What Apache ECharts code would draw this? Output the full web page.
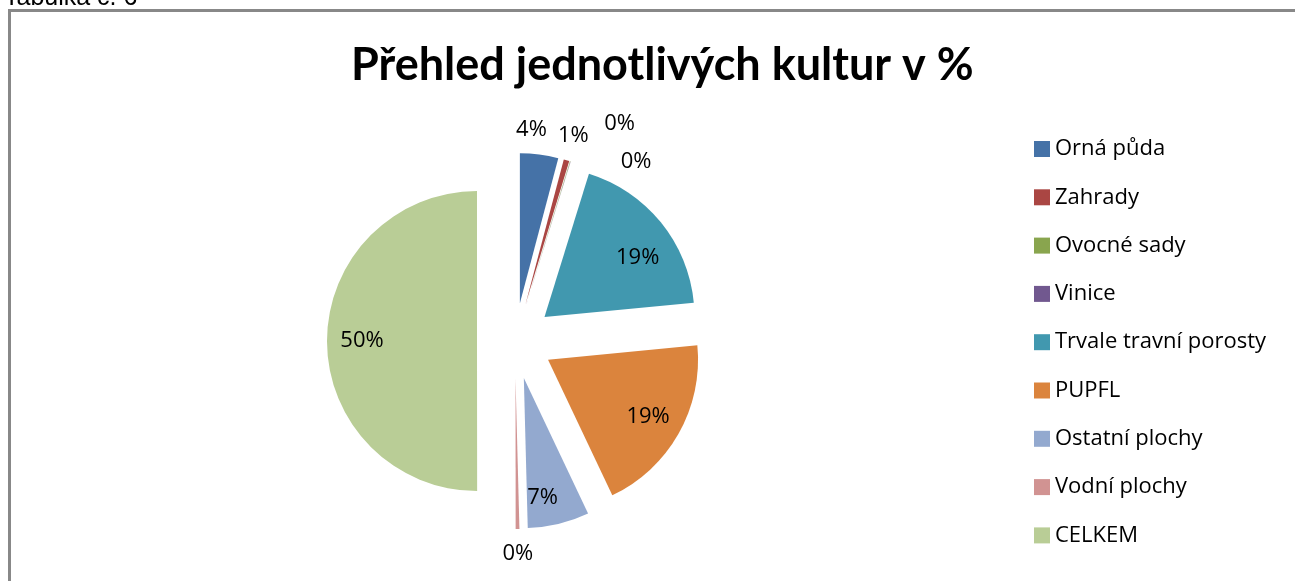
<!DOCTYPE html>
<html>
<head>
<meta charset="utf-8">
<script src="https://cdn.jsdelivr.net/npm/echarts@6/dist/echarts.min.js"></script>
<style>
  html, body { margin: 0; padding: 0; background: #fff; }
  #main { width: 1295px; height: 581px; }
</style>
</head>
<body>
<div id="main"></div>
<script>
// kategorie a hodnoty (v %)
const categories = ['Orná půda', 'Zahrady', 'Ovocné sady', 'Vinice', 'Trvale travní porosty',
                    'PUPFL', 'Ostatní plochy', 'Vodní plochy', 'CELKEM'];
const values = [4.1, 0.6, 0.05, 0.02, 18.6, 19.4, 6.6, 0.4, 49.8];
const colors = ['#4572A7', '#AA4643', '#89A54E', '#71588F', '#4198AF',
                '#DB843D', '#93A9CF', '#D19392', '#B9CD96'];
// které popisky jsou uvnitř výseče
const insideLabel = [false, false, false, false, true, true, true, false, true];
// posun popisků, aby seděly jako v Excelu (malé výseče se jinak překrývají)
const labelNudge = { 0: [-11, 0], 2: [42, -14], 3: [58, 24], 4: [4, 13], 6: [-8, 8] };

const titleFont = 'Lato, "Open Sans", sans-serif';
const font = '"Open Sans", Lato, sans-serif';
const center = [515, 341];
const offset = 38;

const sliceData = categories.map((name, i) => ({
    name: name,
    value: values[i],
    selected: true,
    itemStyle: { color: colors[i] }
}));

function labelData(inside) {
    return categories.map((name, i) => ({
        name: name,
        value: values[i],
        selected: true,
        itemStyle: { color: 'rgba(0,0,0,0)' },
        label: { show: insideLabel[i] === inside }
    }));
}

const labelStyle = {
    show: true,
    position: 'inside',
    fontFamily: font,
    fontSize: 22,
    color: '#000',
    formatter: p => Math.round(p.percent) + '%'
};

function nudge(p) {
    const n = labelNudge[p.dataIndex];
    return n ? { dx: n[0], dy: n[1] } : {};
}

const chart = echarts.init(document.getElementById('main'));
chart.setOption({
    backgroundColor: '#fff',
    animation: false,
    color: colors,
    title: {
        text: 'Přehled jednotlivých kultur v %',
        left: 346,
        top: 38,
        textStyle: { fontFamily: titleFont, fontSize: 45, fontWeight: 'bold', color: '#000' }
    },
    graphic: [
        {
            type: 'rect',
            shape: { x: 9.5, y: 10.5, width: 1400, height: 700 },
            style: { fill: 'none', stroke: '#888', lineWidth: 3 },
            silent: true
        },
        {
            type: 'text',
            left: 4,
            top: -14,
            style: { text: 'Tabulka č. 6', font: '25px "Liberation Sans", Arial, sans-serif', fill: '#000' },
            silent: true
        }
    ],
    legend: {
        orient: 'vertical',
        left: 1029,
        top: 133,
        itemWidth: 16,
        itemHeight: 16,
        itemGap: 26.3,
        icon: 'rect',
        selectedMode: false,
        data: categories,
        textStyle: { fontFamily: font, fontSize: 22, color: '#000' }
    },
    series: [
        {
            type: 'pie',
            center: center,
            radius: [0, 150],
            selectedMode: 'multiple',
            selectedOffset: offset,
            avoidLabelOverlap: false,
            label: { show: false },
            labelLine: { show: false },
            silent: true,
            data: sliceData
        },
        {
            // popisky uvnitř výsečí
            type: 'pie',
            center: center,
            radius: [74, 150],
            selectedMode: 'multiple',
            selectedOffset: offset,
            avoidLabelOverlap: false,
            legendHoverLink: false,
            silent: true,
            label: labelStyle,
            labelLine: { show: false },
            labelLayout: nudge,
            data: labelData(true)
        },
        {
            // popisky vně výsečí
            type: 'pie',
            center: center,
            radius: [150, 194],
            selectedMode: 'multiple',
            selectedOffset: offset,
            avoidLabelOverlap: false,
            legendHoverLink: false,
            silent: true,
            label: labelStyle,
            labelLine: { show: false },
            labelLayout: nudge,
            data: labelData(false)
        }
    ]
});
</script>
</body>
</html>
